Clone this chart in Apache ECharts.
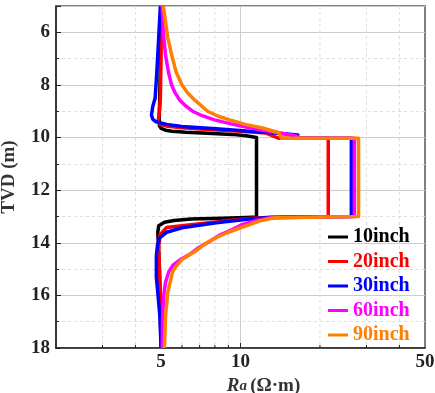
<!DOCTYPE html>
<html>
<head>
<meta charset="utf-8">
<script src="https://cdn.jsdelivr.net/npm/echarts@6/dist/echarts.min.js"></script>
<style>
  html, body { margin: 0; padding: 0; background: #fff; }
  #chart { width: 435px; height: 393px; }
</style>
</head>
<body>
<div id="chart"></div>
<script>
// apparent resistivity (ohm.m) against true vertical depth (m), one pair of arrays per curve
const names = ['10inch', '20inch', '30inch', '60inch', '90inch'];
const colors = ['#000000', '#ff0000', '#0000ff', '#ff00ff', '#ff8000'];

const ra10 = [5.0, 4.97, 4.94, 4.92, 4.93, 5.0, 5.2, 5.5, 6.2, 7.5, 9.3, 10.5, 11.5, 11.5, 10.5, 8.5, 6.5, 5.6, 5.15, 4.9, 4.86, 4.88, 4.93, 4.97, 5.0];
const tvd10 = [5.0, 7.0, 8.6, 9.3, 9.55, 9.65, 9.72, 9.76, 9.8, 9.84, 9.88, 9.93, 10.0, 13.02, 13.04, 13.07, 13.1, 13.15, 13.22, 13.35, 13.6, 14.0, 15.0, 16.5, 18.0];

const ra20 = [5.02, 5.0, 4.97, 4.92, 4.88, 4.95, 5.3, 6.0, 7.5, 9.3, 11, 12.5, 14, 21.5, 21.5, 13, 10.8, 9, 7.6, 6.0, 5.25, 4.95, 4.9, 4.93, 4.97, 5.0];
const tvd20 = [5.0, 7.0, 8.5, 9.1, 9.35, 9.5, 9.57, 9.63, 9.69, 9.74, 9.79, 9.83, 10.03, 10.03, 13.0, 13.03, 13.08, 13.15, 13.24, 13.35, 13.42, 13.7, 14.2, 15.0, 16.5, 18.0];

const ra30 = [4.97, 4.9, 4.82, 4.75, 4.65, 4.6, 4.65, 4.78, 5.25, 6.0, 8.1, 10.8, 13.5, 16.5, 15.5, 26.3, 26.3, 13, 10.8, 8.1, 6.0, 5.25, 4.95, 4.85, 4.8, 4.8, 4.95, 5.0];
const tvd30 = [5.0, 6.2, 7.5, 8.5, 8.83, 9.14, 9.3, 9.4, 9.5, 9.58, 9.67, 9.76, 9.83, 9.9, 10.03, 10.03, 13.0, 13.04, 13.1, 13.24, 13.43, 13.6, 13.8, 14.07, 14.5, 15.3, 16.8, 18.0];

const ra60 = [5.05, 5.1, 5.2, 5.33, 5.48, 5.65, 5.88, 6.2, 6.58, 7.2, 7.97, 9.2, 10.8, 12.3, 14, 16, 16.5, 16, 27, 27, 13, 11.5, 10.2, 9.3, 8.3, 7.6, 6.9, 6.4, 5.9, 5.55, 5.35, 5.2, 5.12, 5.07, 5.05];
const tvd60 = [5.0, 6.0, 6.86, 7.5, 8.0, 8.3, 8.57, 8.8, 9.0, 9.18, 9.33, 9.48, 9.63, 9.73, 9.82, 9.92, 9.97, 10.03, 10.03, 13.0, 13.05, 13.15, 13.3, 13.5, 13.72, 13.96, 14.2, 14.45, 14.65, 14.85, 15.1, 15.5, 16.0, 16.8, 18.0];

const ra90 = [5.1, 5.2, 5.3, 5.5, 5.7, 6.0, 6.3, 6.7, 7.5, 8.2, 9.1, 10.4, 12.0, 14, 14.3, 28, 28, 13.5, 12, 10.2, 9.0, 8.1, 7.3, 6.8, 6.3, 6.0, 5.7, 5.53, 5.3, 5.2, 5.15];
const tvd90 = [5.0, 5.6, 6.2, 6.9, 7.5, 8.0, 8.3, 8.57, 9.0, 9.18, 9.33, 9.5, 9.63, 9.82, 10.03, 10.03, 13.0, 13.05, 13.15, 13.4, 13.6, 13.8, 14.05, 14.3, 14.5, 14.64, 14.9, 15.1, 15.9, 16.8, 18.0];

// axis ticks / labels
const tvdMin = 5, tvdMax = 18;
const raMin = 2, raMax = 50;
const xTickValues = [3, 4, 5, 6, 7, 8, 9, 10, 20, 30, 40];
const xLabelValues = [5, 10, 50];
const xMajorValues = [10];

const curves = [[ra10, tvd10], [ra20, tvd20], [ra30, tvd30], [ra60, tvd60], [ra90, tvd90]];

const serif = 'Liberation Serif, Times New Roman, serif';
const chart = echarts.init(document.getElementById('chart'), null, { renderer: 'canvas' });

const series = curves.map(([ra, tvd], i) => ({
  name: names[i],
  type: 'line',
  data: ra.map((r, k) => [r, tvd[k]]),
  showSymbol: false,
  smooth: false,
  lineStyle: { color: colors[i], width: 3.5, join: 'round' },
  itemStyle: { color: colors[i] },
  z: 3 + i,
  emphasis: { disabled: true }
}));

// vertical grid lines + bottom ticks for the log axis (dashed minor, solid at decades)
series.push({
  type: 'custom',
  silent: true,
  z: 1,
  data: xTickValues.map(v => [v, tvdMax]),
  encode: { x: 0, y: 1 },
  renderItem: (params, api) => {
    const v = api.value(0);
    const top = api.coord([v, tvdMin]);
    const bot = api.coord([v, tvdMax]);
    const major = xMajorValues.includes(v);
    return {
      type: 'group',
      children: [
        {
          type: 'line',
          shape: { x1: top[0], y1: top[1], x2: bot[0], y2: bot[1] },
          style: { stroke: major ? '#cccccc' : '#dddddd', lineWidth: 1, lineDash: major ? null : [3, 3] }
        },
        {
          type: 'line',
          shape: { x1: bot[0], y1: bot[1], x2: bot[0], y2: bot[1] - (major ? 5 : 3) },
          style: { stroke: '#222', lineWidth: 1 }
        }
      ]
    };
  }
});

const option = {
  animation: false,
  backgroundColor: '#fff',
  grid: {
    left: 56, right: 10, top: 6, bottom: 45,
    show: true, borderColor: '#555', borderWidth: 1.5,
    outerBoundsMode: 'none'
  },
  legend: {
    orient: 'vertical',
    left: 328, top: 227,
    padding: 0,
    itemWidth: 20, itemHeight: 3,
    itemGap: 4.5,
    icon: 'rect',
    textStyle: { color: 'inherit', fontFamily: serif, fontWeight: 'bold', fontSize: 20, lineHeight: 20 },
    data: names
  },
  xAxis: {
    type: 'log',
    min: raMin, max: raMax,
    axisLine: { lineStyle: { color: '#222', width: 1.5 } },
    axisTick: { show: false },
    axisLabel: {
      customValues: xLabelValues,
      color: '#222', fontFamily: serif, fontWeight: 'bold', fontSize: 19, margin: 5
    },
    splitLine: { show: false },
    name: '{i|R}{s|a} {n|(Ω·m)}',
    nameLocation: 'middle',
    nameGap: 26,
    nameTextStyle: {
      padding: [0, 0, 0, 46],
      rich: {
        i: { fontFamily: serif, fontStyle: 'italic', fontWeight: 'bold', fontSize: 19, color: '#333' },
        s: { fontFamily: serif, fontStyle: 'italic', fontWeight: 'bold', fontSize: 15, color: '#333' },
        n: { fontFamily: serif, fontWeight: 'bold', fontSize: 19, color: '#333' }
      }
    }
  },
  yAxis: {
    type: 'value',
    inverse: true,
    min: tvdMin, max: tvdMax,
    splitNumber: 7,
    axisLine: { lineStyle: { color: '#222', width: 1.5 } },
    axisTick: { inside: true, length: 5, lineStyle: { color: '#222' } },
    minorTick: { show: true, splitNumber: 2, length: 3, lineStyle: { color: '#222' } },
    axisLabel: {
      showMinLabel: false,
      color: '#222', fontFamily: serif, fontWeight: 'bold', fontSize: 19, margin: 6
    },
    splitLine: { show: true, lineStyle: { color: '#cccccc', width: 1 } },
    minorSplitLine: { show: true, lineStyle: { color: '#dddddd', type: [3, 3] } },
    name: 'TVD (m)',
    nameLocation: 'middle',
    nameGap: 37,
    nameTextStyle: { fontFamily: serif, fontWeight: 'bold', fontSize: 19, color: '#333' }
  },
  series
};

chart.setOption(option);
</script>
</body>
</html>
